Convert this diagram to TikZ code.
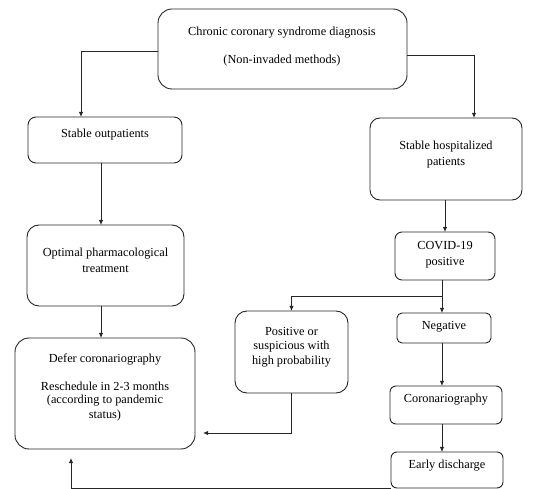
\documentclass[tikz,border=0pt]{standalone}
\usepackage{fontspec}
\setmainfont{Liberation Serif}
\usetikzlibrary{arrows.meta}
\tikzset{
  box/.style={draw=black!85, line width=0.9pt, inner sep=0pt, outer sep=0pt},
  txt/.style={font=\fontsize{12.3}{15}\selectfont, inner sep=0pt, text=black},
  arr/.style={-{Latex[length=5pt,width=4.5pt]}, line width=0.9pt, draw=black!85},
  ln/.style={line width=0.9pt, draw=black!85}
}
\newcommand\mkbox[6]{\node[box, rounded corners=#6, anchor=north west,
  minimum width={(#4-#2)*1pt}, minimum height={(#5-#3)*1pt}] (#1) at (#2,#3) {};}
\begin{document}
\begin{tikzpicture}[x=1pt,y=-1pt]
\useasboundingbox (0,0) rectangle (555,489);
% boxes
\mkbox{top}{158}{9}{407}{89}{14pt}
\mkbox{outp}{28}{117}{182}{163}{8pt}
\mkbox{hosp}{370}{118}{522}{200}{10pt}
\mkbox{opt}{27}{225}{184}{306}{12pt}
\mkbox{covid}{395}{232}{495}{280}{7pt}
\mkbox{defer}{15}{338}{195}{449}{14pt}
\mkbox{pos}{235}{311}{348}{393}{12pt}
\mkbox{neg}{397}{313}{491}{343}{5pt}
\mkbox{cor}{390}{386}{502}{424}{6pt}
\mkbox{early}{391}{452}{503}{488}{6pt}
% texts
\node[txt] (t1) at (282,33) {Chronic coronary syndrome diagnosis};
\node[txt] (t2) at (282,61) {(Non-invaded methods)};
\node[txt] (t3) at (105,135) {Stable outpatients};
\node[txt] (t4) at (446,147) {Stable hospitalized};
\node[txt] (t5) at (446,163) {patients};
\node[txt] (t6) at (105.5,254) {Optimal pharmacological};
\node[txt] (t7) at (105.5,269) {treatment};
\node[txt] (t8) at (445,246) {COVID-19};
\node[txt] (t9) at (445,263) {positive};
\node[txt] (t10) at (105,359) {Defer coronariography};
\node[txt] (t11) at (105,386) {Reschedule in 2-3 months};
\node[txt] (t12) at (105,401) {(according to pandemic};
\node[txt] (t13) at (105,416) {status)};
\node[txt] (t14) at (291.5,331) {Positive or};
\node[txt] (t15) at (291.5,347) {suspicious with};
\node[txt] (t16) at (291.5,362) {high probability};
\node[txt] (t17) at (444,327) {Negative};
\node[txt] (t18) at (446,400) {Coronariography};
\node[txt] (t19) at (447,466) {Early discharge};
% connectors
\draw[arr] ([yshift=-2pt]top.west) -| ([xshift=-24pt]outp.north);
\draw[arr] ([yshift=-6pt]top.east) -| ([xshift=28pt]hosp.north);
\draw[arr] ([xshift=-4pt]outp.south) -- ([xshift=-4pt]outp.south |- opt.north);
\draw[arr] ([xshift=-1pt]hosp.south) -- ([xshift=-1pt]hosp.south |- covid.north);
\draw[arr] ([xshift=-4.5pt]opt.south) -- ([xshift=-4.5pt]opt.south |- defer.north);
\coordinate (br) at (442,296);
\draw[arr] ([xshift=-3pt]covid.south) -- ([xshift=-3pt]covid.south |- neg.north);
\draw[arr] (br) -| (pos.north);
\draw[arr] ([xshift=-2pt]neg.south) -- ([xshift=-2pt]neg.south |- cor.north);
\draw[arr] ([xshift=-4pt]cor.south) -- ([xshift=-4pt]cor.south |- early.north);
\coordinate (pd) at (291.5,433);
\draw[arr, shorten >=8pt] (pos.south) -- (pd) -- (defer.east |- pd);
\coordinate (bl) at (71,488);
\draw[arr, shorten >=9pt] (early.south west) -- (bl) -- (bl |- defer.south);
\end{tikzpicture}
\end{document}
